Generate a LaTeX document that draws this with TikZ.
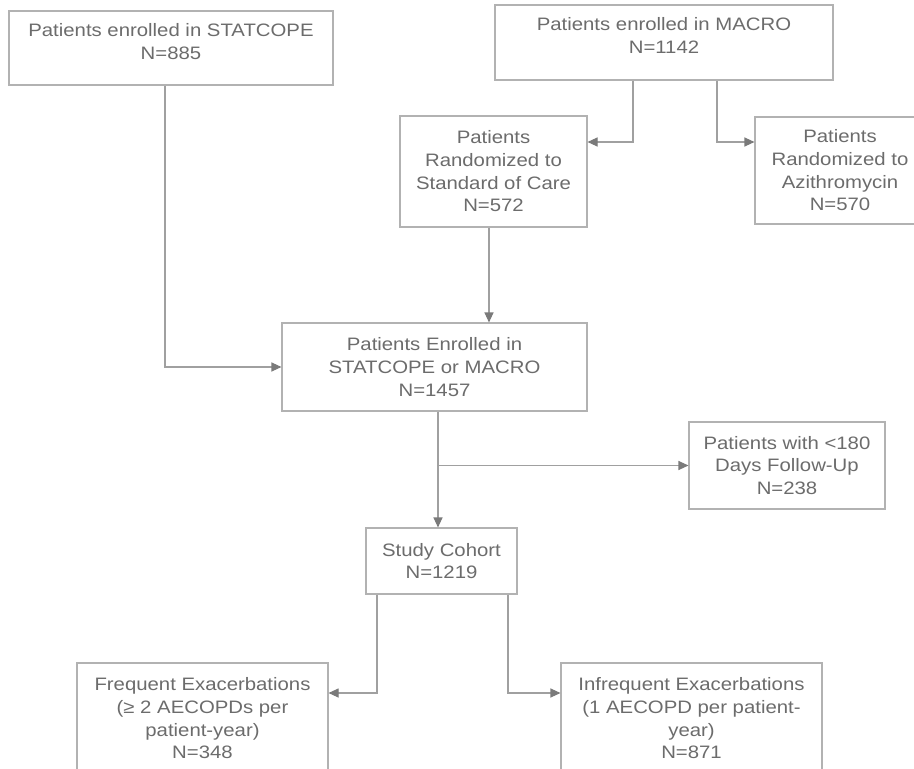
\documentclass[tikz,border=0pt]{standalone}
\usepackage{fontspec}
\setmainfont{Liberation Sans}[FakeStretch=1.13]
\usetikzlibrary{arrows.meta}
\definecolor{boxline}{RGB}{178,178,178}
\definecolor{wireline}{RGB}{160,160,160}
\definecolor{tipgray}{RGB}{122,122,122}
\definecolor{textgray}{RGB}{108,108,108}
\def\topbox#1#2#3{\parbox[c][#2][t]{#1}{\centering\vspace{12.5bp}#3}}

\begin{document}
\begin{tikzpicture}[x=1bp,y=-1bp,
		box/.style={draw=boxline,line width=1.1bp,text=textgray,inner sep=0pt,align=center,
			font=\fontsize{18bp}{22.7bp}\selectfont},
		flow/.style={draw=wireline,line width=1.1bp,-{Triangle[length=10bp,width=9bp,color=tipgray]}}]
			%%%%% START %%%%%
			
			\clip (0,0) rectangle (914,769);
			\fill[white] (0,0) rectangle (914,769);
			
			\node[box,minimum width=324bp] (statcope) at (171,48) {\topbox{320bp}{74bp}{Patients enrolled in STATCOPE\\N=885}};
			\node[box,minimum width=338bp] (macro) at (664,42.5) {\topbox{330bp}{75bp}{Patients enrolled in MACRO\\N=1142}};
			
			\node[box,minimum width=187bp,minimum height=111bp] (soc) at (493.5,171.5) {Patients\\Randomized to\\Standard of Care\\N=572};
			\node[box,minimum width=170bp,minimum height=107bp] (azi) at (840,170.5) {Patients\\Randomized to\\Azithromycin\\N=570};
			
			\node[box,minimum width=305bp,minimum height=88bp] (enrolled) at (434.5,367) {Patients Enrolled in\\STATCOPE or MACRO\\N=1457};
			\node[box,minimum width=196bp,minimum height=87bp] (short) at (787,465.5) {Patients with <180\\Days Follow-Up\\N=238};
			\node[box,minimum width=151bp,minimum height=66bp] (cohort) at (441.5,561) {Study Cohort\\N=1219};
			
			\node[box,minimum width=251bp,minimum height=111bp] (freq) at (202.5,718.5) {Frequent Exacerbations\\(≥ 2 AECOPDs per\\patient-year)\\N=348};
			\node[box,minimum width=261bp,minimum height=111bp] (infreq) at (691.5,718.5) {Infrequent Exacerbations\\(1 AECOPD per patient-\\year)\\N=871};
			
			\coordinate (leftin) at (165,367);
			\draw[flow] (statcope.south -| leftin) -- (leftin) -- (enrolled.west);
			
			\coordinate (socturn) at (633,142);
			\coordinate (aziturn) at (717,142);
			\draw[flow] (macro.south -| socturn) -- (socturn) -- (soc.east |- socturn);
			\draw[flow] (macro.south -| aziturn) -- (aziturn) -- (azi.west |- aziturn);
			
			\coordinate (socdown) at (489,323);
			\draw[flow] (soc.south -| socdown) -- (enrolled.north -| socdown);
			
			\coordinate (branch) at (438,465.5);
			\draw[flow] (enrolled.south -| branch) -- (cohort.north -| branch);
			\draw[flow] (branch) -- (short.west);
			
			\coordinate (freqturn) at (377,693);
			\coordinate (infreqturn) at (508,693);
			\draw[flow] (cohort.south -| freqturn) -- (freqturn) -- (freq.east |- freqturn);
			\draw[flow] (cohort.south -| infreqturn) -- (infreqturn) -- (infreq.west |- infreqturn);
			
			%%%%% END %%%%%
\end{tikzpicture}
\end{document}
